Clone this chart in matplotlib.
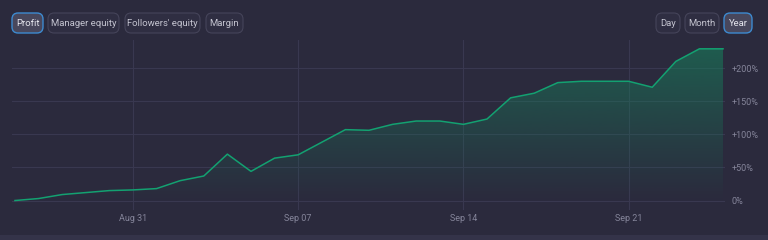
import numpy as np
import pandas as pd
import matplotlib
matplotlib.use('Agg')
import matplotlib.pyplot as plt
from matplotlib.patches import FancyBboxPatch, Rectangle

plt.rcParams['font.family'] = ['Roboto', 'DejaVu Sans']

# daily profit, %
dates = pd.date_range('2020-08-26', '2020-09-25', freq='D')
profit = [0, 3, 9, 12, 15, 16, 18, 30, 37, 70, 44, 64, 69, 88, 107, 106,
          115, 120, 120, 115, 123, 155, 162, 178, 180, 180, 180, 171, 210,
          229, 229]
x_ticks = ['2020-08-31', '2020-09-07', '2020-09-14', '2020-09-21']
x_tick_labels = ['Aug 31', 'Sep 07', 'Sep 14', 'Sep 21']
y_ticks = [0, 50, 100, 150, 200]
y_tick_labels = ['0%', '+50%', '+100%', '+150%', '+200%']
left_buttons = ['Profit', 'Manager equity', "Followers' equity", 'Margin']
right_buttons = ['Day', 'Month', 'Year']

BG = '#2b2a3d'
GRID = '#393850'
LINE = '#13a171'
TICK = '#85859a'

W, H = 768, 240
fig = plt.figure(figsize=(W / 100, H / 100), dpi=100, facecolor=BG)

ax = fig.add_axes([12 / W, 30 / H, 713 / W, 170 / H])
ax.set_facecolor(BG)
for s in ax.spines.values():
    s.set_visible(False)

x = dates
ax.plot(x, profit, color=LINE, lw=1.1, zorder=3, solid_joinstyle='round')
poly = ax.fill_between(x, profit, 0, color='none', lw=0)

# gradient fill under the line
ymin, ymax = -14.3, 242.3
ax.set_ylim(ymin, ymax)
x0, x1 = dates[0] - pd.Timedelta(hours=3), dates[-1] + pd.Timedelta(hours=2)
ax.set_xlim(x0, x1)
grad = np.zeros((256, 1, 4))
grad[:, 0, 0] = 22 / 255
grad[:, 0, 1] = 130 / 255
grad[:, 0, 2] = 92 / 255
grad[:, 0, 3] = np.linspace(0.58, 0.0, 256)
im = ax.imshow(grad, aspect='auto', origin='upper',
               extent=[matplotlib.dates.date2num(dates[0]),
                       matplotlib.dates.date2num(dates[-1]), 0, 235],
               zorder=2)
im.set_clip_path(poly.get_paths()[0], transform=ax.transData)
ax.set_xlim(x0, x1)
ax.set_ylim(ymin, ymax)

ax.set_yticks(y_ticks)
ax.set_yticklabels(y_tick_labels)
ax.yaxis.tick_right()
ax.set_xticks(pd.to_datetime(x_ticks))
ax.set_xticklabels(x_tick_labels)
ax.tick_params(length=0, colors=TICK, labelsize=6.5)
ax.tick_params(axis='y', pad=5)
ax.tick_params(axis='x', pad=3)
for lab in ax.get_yticklabels():
    lab.set_horizontalalignment('left')
ax.grid(True, color=GRID, lw=0.8, zorder=1)
ax.set_axisbelow(True)

# bottom strip
fig.patches.append(Rectangle((0, 0), 1, 5 / H, transform=fig.transFigure,
                             facecolor='#343349', edgecolor='none'))


def button(px, py, pw, ph, text, selected=False):
    """Draw a rounded toggle button given pixel box (top-left origin)."""
    fx, fy = px / W, 1 - (py + ph) / H
    fw, fh = pw / W, ph / H
    box = FancyBboxPatch((fx, fy), fw, fh,
                         boxstyle='round,pad=0,rounding_size=0.008',
                         transform=fig.transFigure,
                         facecolor='#48475c' if selected else '#2f2e42',
                         edgecolor='#3d8ad0' if selected else '#45445a',
                         lw=1.0 if selected else 0.8, mutation_aspect=3.2)
    fig.patches.append(box)
    fig.text(fx + fw / 2, fy + fh / 2, text, ha='center', va='center',
             fontsize=6.8, color='#e6e6ee' if selected else '#c4c4d0')


lx = [12, 48, 125, 206]
lw_ = [31, 71, 75, 37]
for i, t in enumerate(left_buttons):
    button(lx[i], 13, lw_[i], 20, t, selected=(i == 0))
rx = [656, 685, 724]
rw = [24, 34, 28]
for i, t in enumerate(right_buttons):
    button(rx[i], 13, rw[i], 20, t, selected=(i == 2))

fig.savefig('out.png', dpi=100, facecolor=BG)
